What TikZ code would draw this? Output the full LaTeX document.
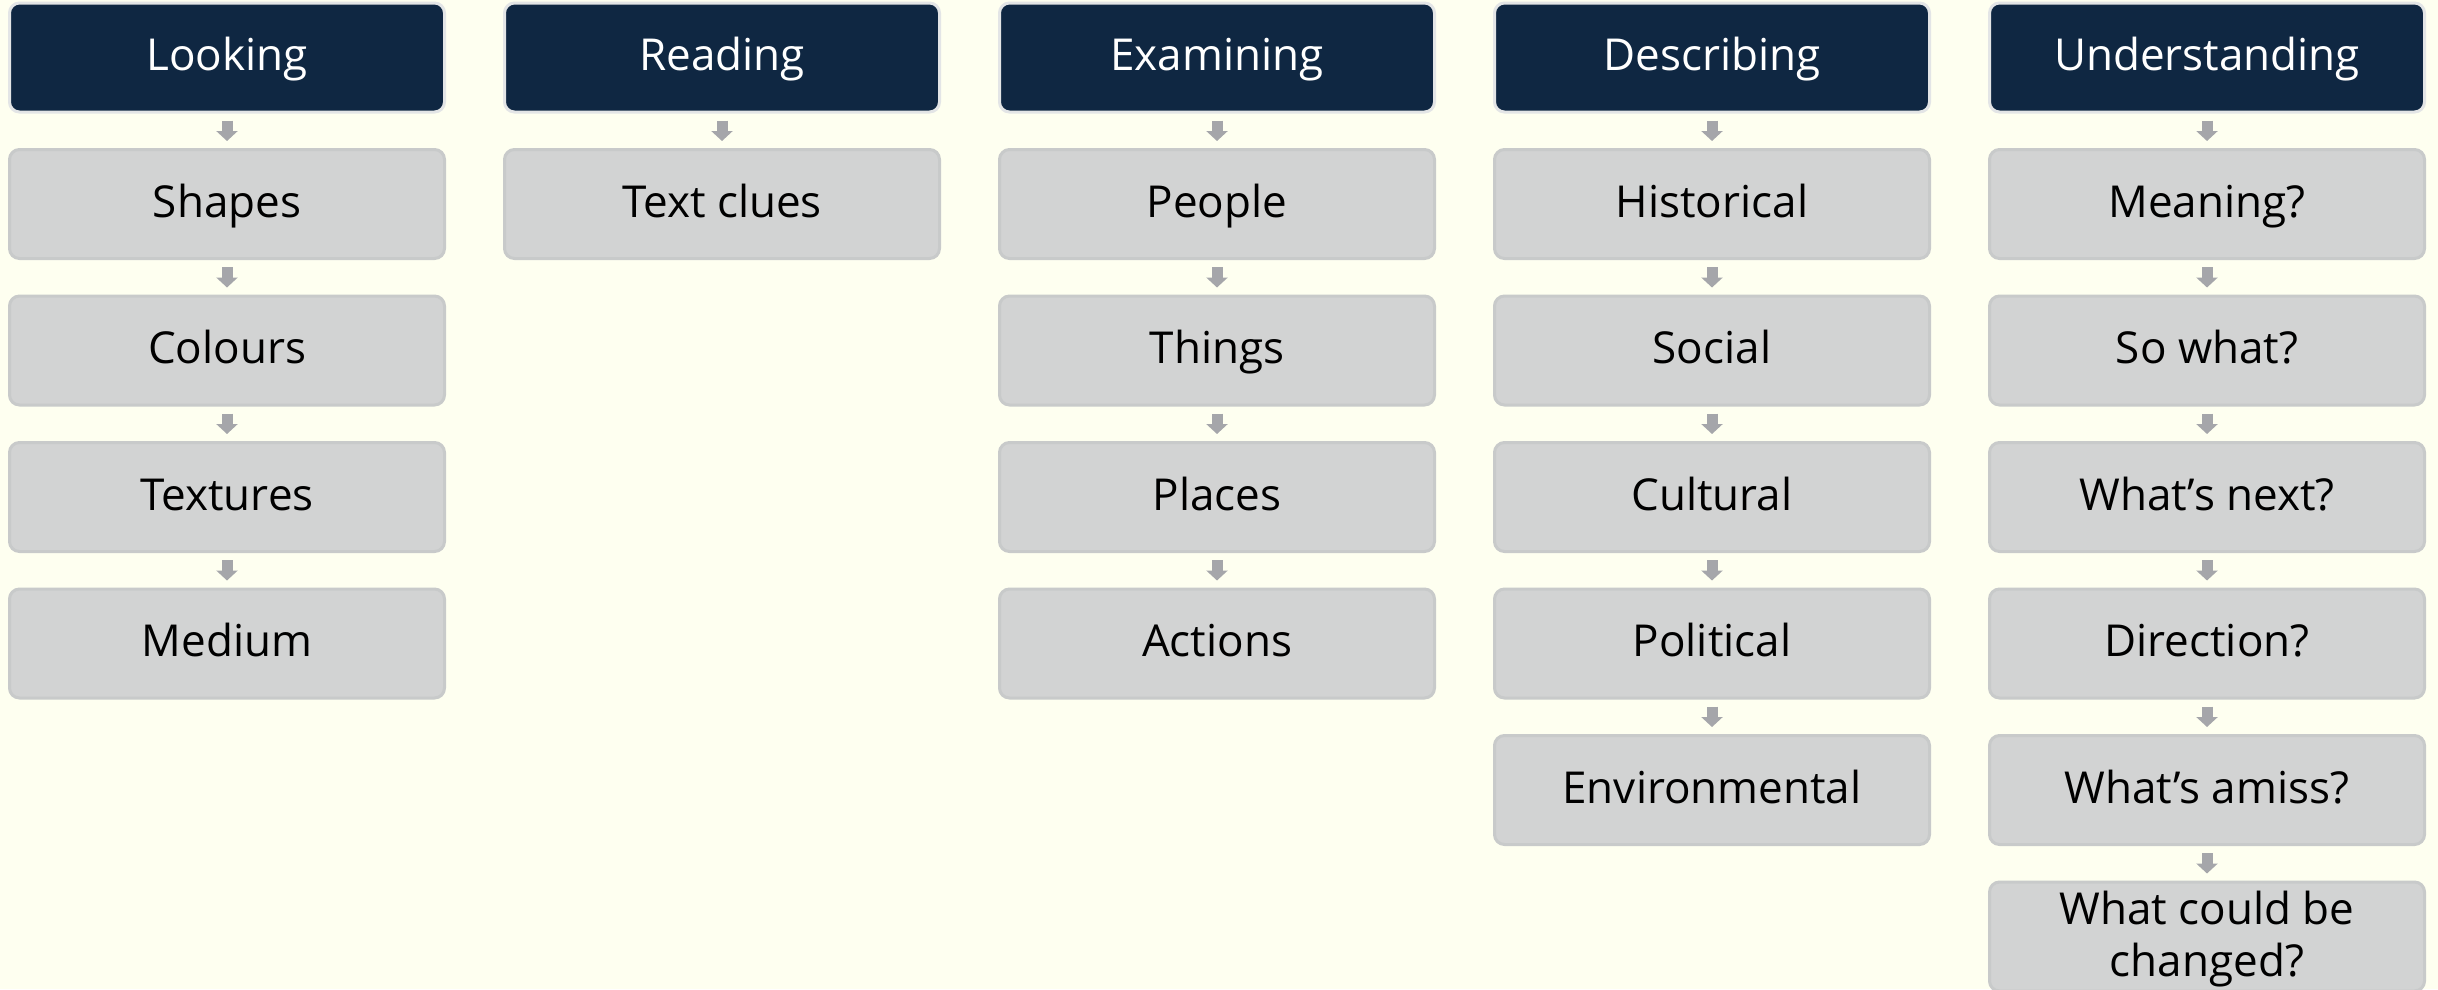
\documentclass[tikz,border=0pt]{standalone}
\usepackage{fontspec}
\setmainfont{Open Sans}
\usetikzlibrary{arrows.meta}
\definecolor{bg}{HTML}{FEFFF0}
\definecolor{navy}{HTML}{0F2742}
\definecolor{hborder}{HTML}{E3E5E6}
\definecolor{boxfill}{HTML}{D2D3D3}
\definecolor{boxborder}{HTML}{C8CACA}
\definecolor{arr}{HTML}{A5A6AA}
\tikzset{
  base/.style={rectangle, rounded corners=10pt, minimum width=435pt, minimum height=109pt,
    line width=3pt, font=\fontsize{44}{52}\selectfont, inner sep=0pt,
    text height=34pt, text depth=8pt},
  header/.style={base, fill=navy, draw=hborder, text=white},
  item/.style={base, fill=boxfill, draw=boxborder, text=black},
  twoline/.style={item, text height=64pt, text depth=45pt},
  flow/.style={draw=arr, line width=11pt, -{Triangle[width=21pt,length=10pt]},
    shorten <=7pt, shorten >=7pt}
}
\begin{document}
\begin{tikzpicture}[x=1pt,y=-1pt]
\useasboundingbox (0,0) rectangle (2438,989);
\clip (0,0) rectangle (2438,989);
\fill[bg] (0,0) rectangle (2438,989);

% Column 1
\node[header] (h1) at (227,57.5) {Looking};
\node[item] (a1) at (227,204) {Shapes};
\node[item] (a2) at (227,350.5) {Colours};
\node[item] (a3) at (227,497) {Textures};
\node[item] (a4) at (227,643.5) {Medium};
\draw[flow] (h1.south) -- (a1.north);
\draw[flow] (a1.south) -- (a2.north);
\draw[flow] (a2.south) -- (a3.north);
\draw[flow] (a3.south) -- (a4.north);

% Column 2
\node[header] (h2) at (722,57.5) {Reading};
\node[item] (b1) at (722,204) {Text clues};
\draw[flow] (h2.south) -- (b1.north);

% Column 3
\node[header] (h3) at (1217,57.5) {Examining};
\node[item] (c1) at (1217,204) {People};
\node[item] (c2) at (1217,350.5) {Things};
\node[item] (c3) at (1217,497) {Places};
\node[item] (c4) at (1217,643.5) {Actions};
\draw[flow] (h3.south) -- (c1.north);
\draw[flow] (c1.south) -- (c2.north);
\draw[flow] (c2.south) -- (c3.north);
\draw[flow] (c3.south) -- (c4.north);

% Column 4
\node[header] (h4) at (1712,57.5) {Describing};
\node[item] (d1) at (1712,204) {Historical};
\node[item] (d2) at (1712,350.5) {Social};
\node[item] (d3) at (1712,497) {Cultural};
\node[item] (d4) at (1712,643.5) {Political};
\node[item] (d5) at (1712,790) {Environmental};
\draw[flow] (h4.south) -- (d1.north);
\draw[flow] (d1.south) -- (d2.north);
\draw[flow] (d2.south) -- (d3.north);
\draw[flow] (d3.south) -- (d4.north);
\draw[flow] (d4.south) -- (d5.north);

% Column 5
\node[header] (h5) at (2207,57.5) {Understanding};
\node[item] (e1) at (2207,204) {Meaning?};
\node[item] (e2) at (2207,350.5) {So what?};
\node[item] (e3) at (2207,497) {What’s next?};
\node[item] (e4) at (2207,643.5) {Direction?};
\node[item] (e5) at (2207,790) {What’s amiss?};
\node[twoline] (e6) at (2207,936.5) {\begin{tabular}{@{}c@{}}What could be\\changed?\end{tabular}};
\draw[flow] (h5.south) -- (e1.north);
\draw[flow] (e1.south) -- (e2.north);
\draw[flow] (e2.south) -- (e3.north);
\draw[flow] (e3.south) -- (e4.north);
\draw[flow] (e4.south) -- (e5.north);
\draw[flow] (e5.south) -- (e6.north);
\end{tikzpicture}
\end{document}
